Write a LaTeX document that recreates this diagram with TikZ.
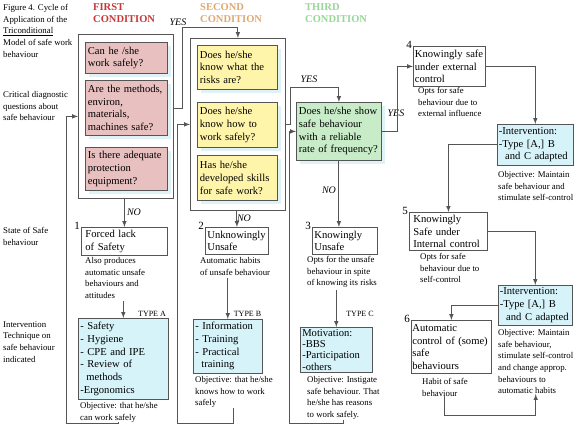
\documentclass[tikz,border=0pt]{standalone}
\usepackage{fontspec}
\setmainfont{Liberation Serif}
\usetikzlibrary{shadows}
\definecolor{linegray}{RGB}{85,85,85}
\definecolor{redfill}{RGB}{232,192,192}
\definecolor{yellowfill}{RGB}{255,245,170}
\definecolor{greenfill}{RGB}{200,236,200}
\definecolor{cyanfill}{RGB}{214,243,250}
\definecolor{shadowcyan}{RGB}{222,242,247}
\definecolor{firstred}{RGB}{200,55,55}
\definecolor{secondtan}{RGB}{224,168,112}
\definecolor{thirdgreen}{RGB}{150,214,150}
\newcommand{\boxfont}{\fontsize{10.6}{12.7}\selectfont}
\newcommand{\notefont}{\fontsize{8.8}{11.7}\selectfont}
\newcommand{\headfont}{\fontsize{10.5}{12}\selectfont\bfseries}
\newcommand{\typefont}{\fontsize{8}{9}\selectfont}
\begin{document}
\begin{tikzpicture}[x=1pt,y=-1pt,
	colframe/.style={draw=linegray,line width=0.8pt,anchor=north west,inner sep=0pt},
	qbox/.style={draw=linegray,line width=0.8pt,anchor=north west,align=left,
		inner sep=2.5pt,font=\boxfont,
		drop shadow={shadow xshift=4pt,shadow yshift=-4pt,fill=shadowcyan,opacity=1}},
	sbox/.style={draw=linegray,line width=0.8pt,fill=white,anchor=north west,
		align=left,inner sep=2pt,font=\boxfont},
	tbox/.style={draw=linegray,line width=0.6pt,fill=cyanfill,anchor=north west,
		align=left,inner sep=2pt,font=\boxfont},
	sidenote/.style={anchor=north west,align=left,inner sep=0pt,font=\notefont},
	head/.style={anchor=north west,align=left,inner sep=0pt,font=\headfont},
	numlabel/.style={anchor=south east,inner sep=0pt,xshift=-1pt,yshift=-3pt,
		font=\fontsize{11}{12}\selectfont},
	yeslabel/.style={inner sep=0pt,font=\fontsize{10}{12}\selectfont\itshape},
	typelabel/.style={inner sep=0pt,font=\typefont},
	conn/.style={draw=linegray,line width=1pt,-latex}]
	\useasboundingbox (0,0) rectangle (577,430);
	% texts on the left
	\node[sidenote] (legfig) at (3,4) {Figure 4. Cycle of\\Application of the\\\underline{Triconditional}\\Model of safe work\\behaviour};
	\node[sidenote] (legcrit) at (3,91) {Critical diagnostic\\questions about\\safe behaviour};
	\node[sidenote] (legstate) at (3,227) {State of Safe\\behaviour};
	\node[sidenote] (legint) at (3,321) {Intervention\\Technique on\\safe behaviour\\indicated};
	% headings
	\node[head,text=firstred] (headA) at (93,3) {FIRST\\CONDITION};
	\node[head,text=secondtan] (headB) at (200,3) {SECOND\\CONDITION};
	\node[head,text=thirdgreen] (headC) at (305,3) {THIRD\\CONDITION};
	% first condition
	\node[colframe,minimum width=95pt,minimum height=164pt] (frameA) at (78,34) {};
	\node[qbox,fill=redfill,text width=77pt,minimum height=31pt] (qa1) at (85,42) {Can he /she\\work safely?};
	\node[qbox,fill=redfill,text width=77pt,minimum height=55pt] (qa2) at (85,80) {Are the methods,\\environ,\\materials,\\machines safe?};
	\node[qbox,fill=redfill,text width=77pt,minimum height=43pt] (qa3) at (85,147) {Is there adequate\\protection\\equipment?};
	\node[sbox,inner xsep=4pt,text width=78pt,minimum height=28pt] (s1) at (81,227) {Forced lack\\of Safety};
	\node[numlabel] (num1) at (s1.north west) {1};
	\node[sidenote] (n1) at (85,257) {Also produces\\automatic unsafe\\behaviours and\\attitudes};
	\node[tbox,text width=86pt,minimum height=81pt] (ta) at (78,318) {- Safety\\- Hygiene\\- CPE and IPE\\- Review of\\\hspace*{0.58em}methods\\-Ergonomics};
	\node[sidenote] (oa) at (80,402) {Objective: that he/she\\can work safely};
	% second condition
	\node[colframe,minimum width=95pt,minimum height=172pt] (frameB) at (190,38) {};
	\node[qbox,fill=yellowfill,text width=75pt,minimum height=44pt] (qb1) at (197,45) {Does he/she\\know what the\\risks are?};
	\node[qbox,fill=yellowfill,text width=75pt,minimum height=45pt] (qb2) at (197,102) {Does he/she\\know how to\\work safely?};
	\node[qbox,fill=yellowfill,text width=75pt,minimum height=45pt] (qb3) at (197,155) {Has he/she\\developed skills\\for safe work?};
	\node[sbox,text width=59pt,minimum height=27pt] (s2) at (205,227) {Unknowingly\\Unsafe};
	\node[numlabel] (num2) at (s2.north west) {2};
	\node[sidenote] (n2) at (200,257) {Automatic habits\\of unsafe behaviour};
	\node[tbox,text width=65pt,minimum height=54pt] (tb) at (193,319) {- Information\\- Training\\- Practical\\\hspace*{0.58em}training};
	\node[sidenote] (ob) at (195,376) {Objective: that he/she\\knows how to work\\safely};
	% third condition
	\node[qbox,fill=greenfill,text width=80pt,minimum height=58pt] (qc) at (296,102) {Does he/she show\\safe behaviour\\with a reliable\\rate of frequency?};
	\node[sbox,text width=61pt,minimum height=27pt] (s3) at (312,227) {Knowingly\\Unsafe};
	\node[numlabel] (num3) at (s3.north west) {3};
	\node[sidenote] (n3) at (307,256) {Opts for the unsafe\\behaviour in spite\\of knowing its risks};
	\node[tbox,text width=68pt,minimum height=45pt,font=\fontsize{10.6}{11.3}\selectfont] (tc) at (300,327) {Motivation:\\-BBS\\-Participation\\-others};
	\node[sidenote] (oc) at (307,376) {Objective: Instigate\\safe behaviour. That\\he/she has reasons\\to work safely.};
	% safe states on the right
	\node[sbox,inner sep=1.5pt,text width=69pt,minimum height=40pt] (s4) at (413,46) {Knowingly safe\\under external\\control};
	\node[numlabel] (num4) at (s4.north west) {4};
	\node[sidenote] (n4) at (418,87) {Opts for safe\\behaviour due to\\external influence};
	\node[tbox,inner sep=1.5pt,text width=73pt,minimum height=41pt] (i1) at (497,124) {-Intervention:\\-Type [A,] B\\\hspace*{0.6em}and C adapted};
	\node[sidenote] (oi1) at (498,171) {Objective: Maintain\\safe behaviour and\\stimulate self-control};
	\node[sbox,inner xsep=4pt,text width=70pt,minimum height=38pt] (s5) at (409,212) {Knowingly\\Safe under\\Internal control};
	\node[numlabel] (num5) at (s5.north west) {5};
	\node[sidenote] (n5) at (420,253) {Opts for safe\\behaviour due to\\self-control};
	\node[tbox,inner sep=1.5pt,text width=71pt,minimum height=40pt] (i2) at (498,285) {-Intervention:\\-Type [A,] B\\\hspace*{0.6em}and C adapted};
	\node[sidenote] (oi2) at (498,329) {Objective: Maintain\\safe behaviour,\\stimulate self-control\\and change approp.\\behaviours to\\automatic habits};
	\node[sbox,inner sep=1pt,text width=78pt,minimum height=53pt] (s6) at (411,320) {Automatic\\control of (some)\\safe\\behaviours};
	\node[numlabel] (num6) at (s6.north west) {6};
	\node[sidenote] (n6) at (422,378) {Habit of safe\\behaviour};
	% labels on the connectors
	\node[yeslabel] (yes1) at (178,22.5) {YES};
	\node[yeslabel] (yes2) at (309,79.5) {YES};
	\node[yeslabel] (yes3) at (396,113.5) {YES};
	\node[yeslabel] (no1) at (134,212) {NO};
	\node[yeslabel] (no2) at (244,218.5) {NO};
	\node[yeslabel] (no3) at (329,190.5) {NO};
	\node[typelabel] (typeA) at (152,314) {TYPE A};
	\node[typelabel] (typeB) at (247.5,314) {TYPE B};
	\node[typelabel] (typeC) at (360,314) {TYPE C};
	% corners of the loops back
	\coordinate (cornerA) at (66,423);
	\coordinate (cornerB) at (177,423);
	\coordinate (cornerC) at (289,423);
	\coordinate (cornerF) at (oi2.south |- 0,415);
	% connectors
	\draw[conn] (s1.north |- frameA.south) -- (s1.north);
	\draw[conn, shorten <=2pt] (ta.north |- n1.south) -- (ta.north);
	\draw[conn] ([yshift=8pt]frameA.east) -- ++(9,0) |- ([yshift=10pt]frameB.north) -- (frameB.north);
	\draw[conn] (oa.south) |- (cornerA) |- (frameA.west);
	\draw[conn] (s2.north |- frameB.south) -- (s2.north);
	\draw[conn, shorten <=3pt] (tb.north |- n2.south) -- (tb.north);
	\draw[conn] (frameB.east) -- ++(5,0) |- ([yshift=14pt]qc.north) -- (qc.north);
	\draw[conn] (ob.south) |- (cornerB) |- (frameB.west);
	\draw[conn] (qc.south) -- (qc.south |- s3.north);
	\draw[conn, shorten <=2pt] (tc.north |- n3.south) -- (tc.north);
	\draw[conn] (oc.south) |- (cornerC) |- (qc.west);
	\draw[conn] (qc.east) -- ++(16,0) |- (s4.west);
	\draw[conn] (s4.east) -| (i1.north);
	\draw[conn] (i1.west) -| (s5.north);
	\draw[conn] (s5.east) -| (i2.north);
	\draw[conn] (i2.west) -| (s6.north);
	\draw[conn] (n6.south) |- (cornerF) -- (oi2.south);
\end{tikzpicture}
\end{document}
